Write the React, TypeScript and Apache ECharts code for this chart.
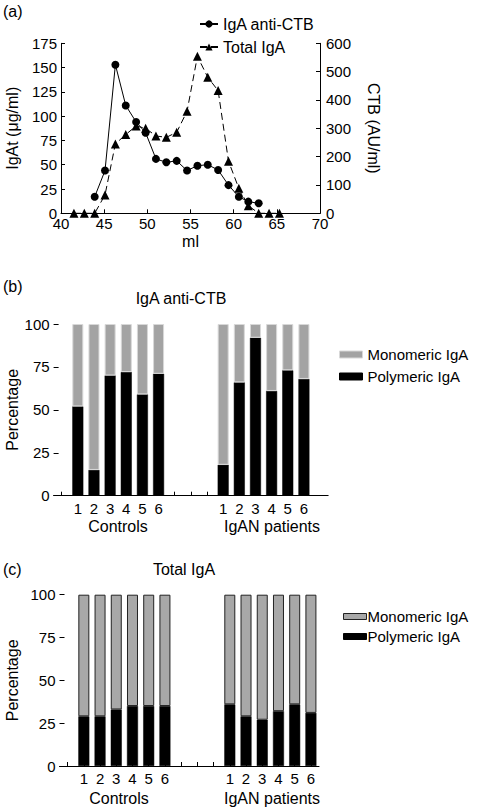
import React, { useEffect, useRef } from "react";
import * as echarts from "echarts";

// ---- Panel (a): gel-filtration fractions ----
const fractionsMl = [41.5, 42.7, 43.9, 45.1, 46.3, 47.5, 48.7, 49.8, 51.0, 52.2, 53.4, 54.6, 55.8, 57.0, 58.2, 59.4, 60.6, 61.7, 62.9, 64.1, 65.3];
const igaAntiCtb = [null, null, 17, 44, 153, 111, 94, 83, 56, 52.5, 54, 44, 49, 50, 44.6, 29, 17, 12, 10.3, null, null];
const totalIga = [0, 0, 0, 65, 245, 278, 308, 300, 273, 268, 286, 360, 554, 480, 433, 184, 88, 27, 0, 0, 0];

// ---- Panels (b) and (c): percentages ----
const subjectLabels = ["1", "2", "3", "4", "5", "6"];
const groupNames = ["Controls", "IgAN patients"];
const seriesNames = ["Monomeric IgA", "Polymeric IgA"];

const antiCtbPolyControls = [52, 15, 70, 72, 59, 71];
const antiCtbMonoControls = [48, 85, 30, 28, 41, 29];
const antiCtbPolyPatients = [18, 66, 92, 61, 73, 68];
const antiCtbMonoPatients = [82, 34, 8, 39, 27, 32];

const totalPolyControls = [29, 29, 33, 35, 35, 35];
const totalMonoControls = [71, 71, 67, 65, 65, 65];
const totalPolyPatients = [36, 29, 27, 32, 36, 31];
const totalMonoPatients = [64, 71, 73, 68, 64, 69];

const FONT = "Liberation Sans";
const CONTROL_START = 1;
const PATIENT_START = 10;
const LAST_TICK = PATIENT_START + subjectLabels.length - 1;

// category slots: empty slot, 6 controls, 3 empty, 6 patients, (+ trailing empties)
function slotCategories(count: number) {
  return Array.from({ length: count }, (_, s) => {
    if (s >= CONTROL_START && s < CONTROL_START + subjectLabels.length) return subjectLabels[s - CONTROL_START];
    if (s >= PATIENT_START && s < PATIENT_START + subjectLabels.length) return subjectLabels[s - PATIENT_START];
    return " ".repeat(s + 1);
  });
}

function slotData(count: number, controls: number[], patients: number[]) {
  const out: (number | null)[] = Array.from({ length: count }, () => null);
  controls.forEach((v, i) => (out[CONTROL_START + i] = v));
  patients.forEach((v, i) => (out[PATIENT_START + i] = v));
  return out;
}

const axisBase = {
  axisLine: { show: true, lineStyle: { color: "#000", width: 1 } },
  axisTick: { show: true, inside: true, length: 4, lineStyle: { color: "#000" } },
  splitLine: { show: false },
  axisLabel: { color: "#000", fontSize: 15, fontFamily: FONT },
  nameMoveOverlap: false,
};

const SLOTS_B = 17;
const SLOTS_C = 16;

export default function App() {
  const ref = useRef<HTMLDivElement>(null);

  useEffect(() => {
    if (!ref.current) return;
    const chart = echarts.init(ref.current, undefined, { renderer: "svg" });

    const lineA = fractionsMl.map((x, i) => [x, igaAntiCtb[i]]);
    const lineB = fractionsMl.map((x, i) => [x, totalIga[i]]);

    const barX = (gridIndex: number, count: number) => ({
      type: "category",
      gridIndex,
      data: slotCategories(count),
      boundaryGap: true,
      ...axisBase,
      axisTick: {
        show: true,
        inside: true,
        length: 4,
        alignWithLabel: true,
        interval: (index: number) => index <= LAST_TICK,
        lineStyle: { color: "#000" },
      },
      axisLabel: { ...axisBase.axisLabel, margin: 5, interval: 0 },
    });
    const barY = (gridIndex: number, nameGap: number) => ({
      type: "value",
      gridIndex,
      min: 0,
      max: 100,
      interval: 25,
      ...axisBase,
      axisLine: { show: false },
      axisTick: { show: true, inside: true, length: 5, lineStyle: { color: "#000" } },
      axisLabel: { ...axisBase.axisLabel, margin: 4 },
      name: "Percentage",
      nameLocation: "middle",
      nameRotate: 90,
      nameGap,
      nameTextStyle: { color: "#000", fontSize: 16, fontFamily: FONT },
    });

    const textEl = (text: string, x: number, y: number, align = "center", size = 16) => ({
      type: "text",
      x,
      y,
      style: { text, align, verticalAlign: "middle", fill: "#000", fontSize: size, fontFamily: FONT },
    });

    const legendText = { color: "#000", fontSize: 15, fontFamily: FONT };

    chart.setOption({
      animation: false,
      backgroundColor: "#fff",
      grid: [
        { left: 61, top: 43.3, width: 259, height: 170, outerBoundsMode: "none", containLabel: false },
        { left: 53.6, top: 324, width: 16.15 * SLOTS_B, height: 171.7, outerBoundsMode: "none", containLabel: false },
        { left: 59.5, top: 594.7, width: 16.22 * SLOTS_C, height: 171.3, outerBoundsMode: "none", containLabel: false },
      ],
      xAxis: [
        {
          type: "value",
          gridIndex: 0,
          min: 40,
          max: 70,
          interval: 5,
          ...axisBase,
          axisLabel: { ...axisBase.axisLabel, margin: 3 },
          name: "ml",
          nameLocation: "middle",
          nameGap: 20,
          nameTextStyle: { color: "#000", fontSize: 16, fontFamily: FONT },
        },
        barX(1, SLOTS_B),
        barX(2, SLOTS_C),
      ],
      yAxis: [
        {
          type: "value",
          gridIndex: 0,
          min: 0,
          max: 175,
          interval: 25,
          ...axisBase,
          axisLabel: { ...axisBase.axisLabel, margin: 4 },
          name: "IgAt (\u03bcg/ml)",
          nameLocation: "middle",
          nameRotate: 90,
          nameGap: 41,
          nameTextStyle: { color: "#000", fontSize: 16, fontFamily: FONT },
        },
        {
          type: "value",
          gridIndex: 0,
          position: "right",
          min: 0,
          max: 600,
          interval: 100,
          ...axisBase,
          axisLabel: { ...axisBase.axisLabel, margin: 6 },
          name: "CTB (AU/ml)",
          nameLocation: "middle",
          nameRotate: -90,
          nameGap: 45,
          nameTextStyle: { color: "#000", fontSize: 16, fontFamily: FONT },
        },
        barY(1, 33),
        barY(2, 39),
      ],
      legend: [
        {
          orient: "vertical",
          left: 194,
          top: 11,
          itemWidth: 18,
          itemHeight: 9,
          itemGap: 7,
          data: ["IgA anti-CTB", "Total IgA"],
          textStyle: { color: "#000", fontSize: 16, fontFamily: FONT },
        },
        {
          orient: "vertical",
          left: 334,
          top: 342,
          itemWidth: 23,
          itemHeight: 7,
          itemGap: 7,
          icon: "rect",
          data: [
            { name: seriesNames[0], itemStyle: { color: "#a3a3a3", borderColor: "#d8d8d8", borderWidth: 1 } },
            { name: seriesNames[1], itemStyle: { color: "#000", borderColor: "#000", borderWidth: 1 } },
          ],
          textStyle: legendText,
        },
        {
          orient: "vertical",
          left: 338,
          top: 604,
          itemWidth: 23,
          itemHeight: 6,
          itemGap: 5,
          icon: "rect",
          data: [
            { name: seriesNames[0], itemStyle: { color: "#a8a8a8", borderColor: "#222", borderWidth: 1 } },
            { name: seriesNames[1], itemStyle: { color: "#000", borderColor: "#000", borderWidth: 1 } },
          ],
          textStyle: { ...legendText, padding: [0, 0, 0, -4] },
        },
      ],
      series: [
        {
          name: "IgA anti-CTB",
          type: "line",
          xAxisIndex: 0,
          yAxisIndex: 0,
          data: lineA,
          symbol: "circle",
          symbolSize: 8,
          connectNulls: false,
          lineStyle: { color: "#000", width: 1 },
          itemStyle: { color: "#000" },
        },
        {
          name: "Total IgA",
          type: "line",
          xAxisIndex: 0,
          yAxisIndex: 1,
          data: lineB,
          symbol: "triangle",
          symbolSize: 9,
          lineStyle: { color: "#000", width: 1, type: [7, 4] },
          itemStyle: { color: "#000" },
        },
        {
          name: seriesNames[1],
          type: "bar",
          xAxisIndex: 1,
          yAxisIndex: 2,
          stack: "b",
          barWidth: 11,
          data: slotData(SLOTS_B, antiCtbPolyControls, antiCtbPolyPatients),
          itemStyle: { color: "#000", borderColor: "#000", borderWidth: 0.5 },
        },
        {
          name: seriesNames[0],
          type: "bar",
          xAxisIndex: 1,
          yAxisIndex: 2,
          stack: "b",
          barWidth: 11,
          data: slotData(SLOTS_B, antiCtbMonoControls, antiCtbMonoPatients),
          itemStyle: { color: "#a3a3a3", borderColor: "#d8d8d8", borderWidth: 1 },
        },
        {
          name: seriesNames[1],
          type: "bar",
          xAxisIndex: 2,
          yAxisIndex: 3,
          stack: "c",
          barWidth: 11,
          data: slotData(SLOTS_C, totalPolyControls, totalPolyPatients),
          itemStyle: { color: "#000", borderColor: "#000", borderWidth: 0.5 },
        },
        {
          name: seriesNames[0],
          type: "bar",
          xAxisIndex: 2,
          yAxisIndex: 3,
          stack: "c",
          barWidth: 11,
          data: slotData(SLOTS_C, totalMonoControls, totalMonoPatients),
          itemStyle: { color: "#a8a8a8", borderColor: "#222", borderWidth: 1 },
        },
      ],
      graphic: [
        textEl("(a)", 3, 11, "left"),
        textEl("(b)", 3, 286, "left"),
        textEl("(c)", 3, 569, "left"),
        textEl("IgA anti-CTB", 181, 298),
        textEl("Total IgA", 184, 569),
        textEl(groupNames[0], 118, 526),
        textEl(groupNames[1], 272, 526),
        textEl(groupNames[0], 119, 798),
        textEl(groupNames[1], 272, 798),
      ],
    });

    return () => chart.dispose();
  }, []);

  return (
    <div
      ref={ref}
      style={{ position: "absolute", left: 0, top: 0, width: 479, height: 809, background: "#fff" }}
    />
  );
}
